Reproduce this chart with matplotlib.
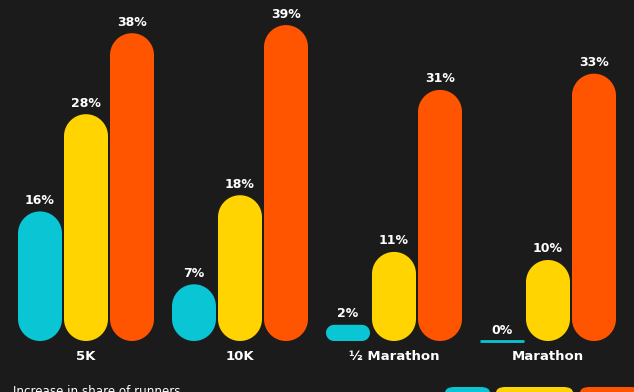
import numpy as np
import matplotlib
matplotlib.use("Agg")
import matplotlib.pyplot as plt
from matplotlib.patches import Polygon, FancyBboxPatch

categories = ["5K", "10K", "½ Marathon", "Marathon"]
series_a = [16, 7, 2, 0]
series_b = [28, 18, 11, 10]
series_c = [38, 39, 31, 33]
colors = ["#0AC5D3", "#FFD400", "#FF5500"]
value_labels_a = ["16%", "7%", "2%", "0%"]
value_labels_b = ["28%", "18%", "11%", "10%"]
value_labels_c = ["38%", "39%", "31%", "33%"]
caption = "Increase in share of runners"

W, H, DPI = 634, 392, 100
bg = "#1b1b1b"
fig = plt.figure(figsize=(W / DPI, H / DPI), dpi=DPI, facecolor=bg)
ax = fig.add_axes([0, 0, 1, 1])
ax.set_facecolor(bg)

group_px = 154.0
x0_px = 86.0
y0_px = 341.0
px_per_pct = 8.1
ax.set_xlim(-x0_px / group_px, (W - x0_px) / group_px)
ax.set_ylim(-(H - y0_px) / px_per_pct, y0_px / px_per_pct)
ax.axis("off")

xu = 1 / group_px      # x data units per pixel
yu = 1 / px_per_pct    # y data units per pixel

offset = 46 / group_px
width = 44 / group_px
font = dict(family="DejaVu Sans", weight="bold", color="white")


def rounded_bar(xc, v, color):
    """Rounded bar from 0 to v (data units), corner radius limited to half width/height."""
    w_px = width / xu
    h_px = v / yu
    r_px = min(w_px / 2, h_px / 2)
    t = np.linspace(0, np.pi / 2, 24)
    left, right = xc - width / 2, xc + width / 2
    rx, ry = r_px * xu, r_px * yu
    pts = []
    pts += list(zip(right - rx + rx * np.cos(t), v - ry + ry * np.sin(t)))
    pts += list(zip(left + rx - rx * np.sin(t), v - ry + ry * np.cos(t)))
    pts += list(zip(left + rx - rx * np.cos(t), ry - ry * np.sin(t)))
    pts += list(zip(right - rx + rx * np.sin(t), ry - ry * np.cos(t)))
    ax.add_patch(Polygon(pts, closed=True, fc=color, ec="none"))


all_series = [(series_a, value_labels_a), (series_b, value_labels_b), (series_c, value_labels_c)]
for si, (vals, labs) in enumerate(all_series):
    for gi, v in enumerate(vals):
        xc = gi + (si - 1) * offset
        if v == 0:
            ax.plot([xc - width / 2, xc + width / 2], [0, 0], color=colors[si], lw=2,
                    solid_capstyle="butt")
        else:
            rounded_bar(xc, v, colors[si])
        ax.text(xc, v + 11 * yu, labs[gi], ha="center", va="center", fontsize=9, **font)

for gi, c in enumerate(categories):
    ax.text(gi, -16 * yu, c, ha="center", va="center", fontsize=9.5, **font)

fig.text(13 / W, 1 - 385 / H, caption, ha="left", va="top", fontsize=8.6, color="white",
         family="DejaVu Sans")

# legend chips at bottom (cut off in the reference)
for (x1, x2), c in zip([(445, 490), (496, 573), (580, 640)], colors):
    chip = FancyBboxPatch((x1 / W, -0.05), (x2 - x1) / W, 1 - 387 / H + 0.05,
                          boxstyle="round,pad=0,rounding_size=0.015",
                          transform=fig.transFigure, fc=c, ec="none")
    fig.patches.append(chip)

fig.savefig("out.png", dpi=DPI, facecolor=bg)
